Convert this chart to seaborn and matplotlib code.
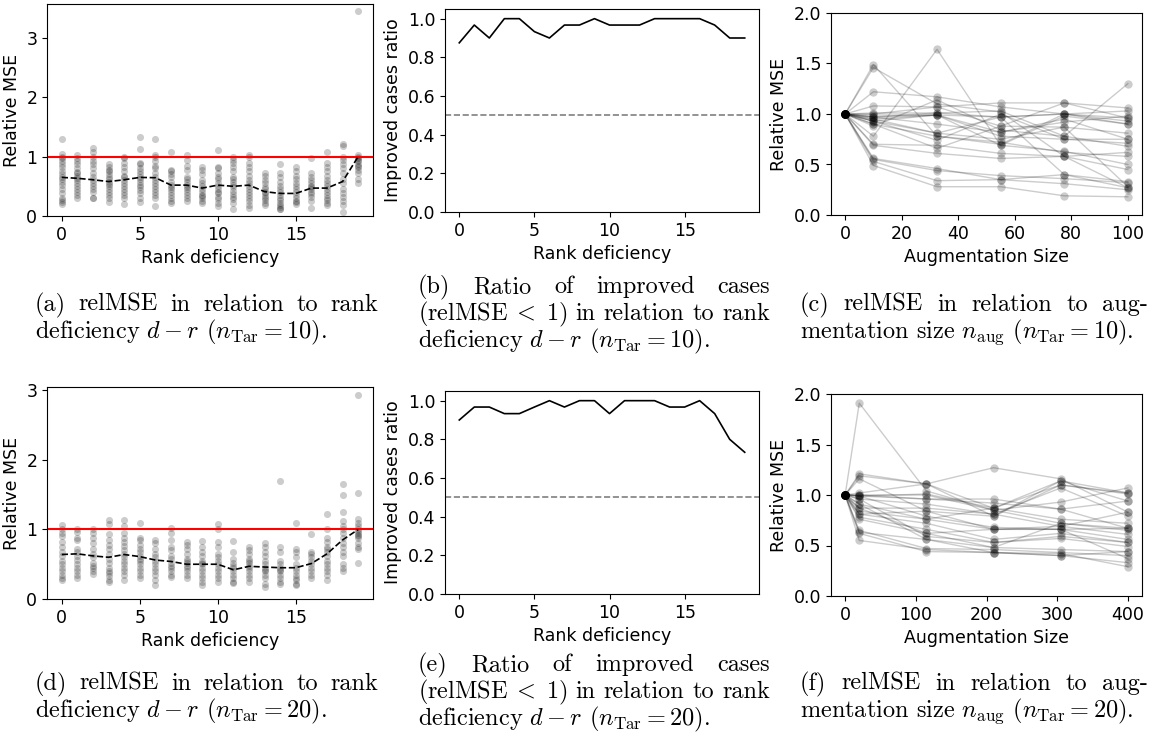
import re
import numpy as np
import pandas as pd
import seaborn as sns
import matplotlib.pyplot as plt

plt.rcParams['mathtext.fontset'] = 'cm'

# rank deficiency 0..19
ranks = np.arange(20)

# relative MSE per rank deficiency, n_Tar = 10
rel_mse_10 = [
    [1.30, 1.05, 1.00, 0.97, 0.93, 0.88, 0.82, 0.75, 0.70, 0.65, 0.62, 0.58, 0.52, 0.45, 0.38, 0.30, 0.27, 0.24, 0.20],
    [1.03, 0.98, 0.92, 0.88, 0.80, 0.74, 0.72, 0.68, 0.64, 0.60, 0.55, 0.50, 0.45, 0.40, 0.35, 0.31],
    [1.14, 1.08, 1.00, 0.93, 0.88, 0.80, 0.72, 0.65, 0.60, 0.55, 0.50, 0.46, 0.40, 0.31, 0.30],
    [0.87, 0.82, 0.78, 0.75, 0.70, 0.66, 0.62, 0.58, 0.54, 0.50, 0.45, 0.40, 0.35, 0.30, 0.23],
    [1.00, 0.97, 0.90, 0.82, 0.75, 0.68, 0.66, 0.60, 0.55, 0.50, 0.46, 0.40, 0.35, 0.30, 0.20],
    [1.33, 1.12, 0.90, 0.88, 0.80, 0.75, 0.70, 0.65, 0.62, 0.58, 0.53, 0.48, 0.43, 0.38, 0.30, 0.24],
    [1.30, 1.02, 1.00, 0.92, 0.85, 0.80, 0.72, 0.65, 0.60, 0.55, 0.50, 0.45, 0.40, 0.35, 0.30, 0.17],
    [1.08, 0.78, 0.75, 0.70, 0.65, 0.58, 0.52, 0.48, 0.45, 0.40, 0.35, 0.30, 0.25, 0.22],
    [1.02, 0.95, 0.85, 0.78, 0.65, 0.62, 0.58, 0.52, 0.48, 0.45, 0.40, 0.35, 0.30, 0.25],
    [0.83, 0.78, 0.70, 0.60, 0.55, 0.50, 0.45, 0.40, 0.35, 0.33, 0.30, 0.26, 0.22],
    [1.11, 0.82, 0.80, 0.72, 0.66, 0.62, 0.55, 0.50, 0.45, 0.40, 0.38, 0.32, 0.28, 0.22, 0.17],
    [1.00, 0.95, 0.90, 0.82, 0.75, 0.65, 0.62, 0.58, 0.52, 0.48, 0.42, 0.37, 0.32, 0.28, 0.22, 0.12],
    [1.03, 1.00, 0.90, 0.82, 0.75, 0.68, 0.60, 0.55, 0.50, 0.45, 0.40, 0.35, 0.30, 0.25, 0.18, 0.13],
    [0.72, 0.68, 0.60, 0.55, 0.48, 0.45, 0.40, 0.38, 0.33, 0.30, 0.27, 0.22, 0.18],
    [0.87, 0.72, 0.65, 0.58, 0.50, 0.45, 0.40, 0.35, 0.30, 0.27, 0.22, 0.18, 0.15, 0.12, 0.11],
    [0.83, 0.75, 0.68, 0.62, 0.55, 0.50, 0.45, 0.40, 0.35, 0.30, 0.26, 0.23, 0.20],
    [0.97, 0.72, 0.65, 0.60, 0.55, 0.50, 0.48, 0.45, 0.40, 0.37, 0.32, 0.26, 0.14],
    [1.07, 0.90, 0.82, 0.75, 0.68, 0.60, 0.55, 0.50, 0.45, 0.40, 0.35, 0.30, 0.27, 0.22, 0.18],
    [1.22, 1.18, 1.00, 0.95, 0.88, 0.80, 0.72, 0.62, 0.55, 0.45, 0.38, 0.32, 0.25, 0.19, 0.07],
    [3.45, 1.03, 1.00, 0.98, 0.95, 0.92, 0.88, 0.85, 0.82, 0.78, 0.73, 0.62, 0.55],
]
trend_10 = [0.65, 0.635, 0.61, 0.58, 0.61, 0.65, 0.645, 0.52, 0.52, 0.47,
            0.52, 0.50, 0.52, 0.41, 0.38, 0.38, 0.47, 0.47, 0.58, 1.00]

# relative MSE per rank deficiency, n_Tar = 20
rel_mse_20 = [
    [1.06, 1.00, 0.95, 0.90, 0.82, 0.75, 0.68, 0.62, 0.55, 0.50, 0.45, 0.40, 0.35, 0.30, 0.28],
    [1.00, 0.97, 0.88, 0.85, 0.72, 0.68, 0.62, 0.56, 0.50, 0.45, 0.40, 0.35, 0.30],
    [1.00, 0.95, 0.88, 0.80, 0.72, 0.65, 0.60, 0.52, 0.48, 0.45, 0.40, 0.36],
    [1.13, 1.08, 0.93, 0.85, 0.78, 0.72, 0.65, 0.58, 0.52, 0.45, 0.40, 0.38, 0.33, 0.28, 0.25],
    [1.13, 1.05, 0.95, 0.88, 0.82, 0.76, 0.70, 0.65, 0.60, 0.55, 0.50, 0.45, 0.40, 0.35, 0.28],
    [1.10, 0.88, 0.85, 0.78, 0.72, 0.68, 0.62, 0.58, 0.55, 0.50, 0.45, 0.40, 0.35, 0.30],
    [0.85, 0.80, 0.72, 0.65, 0.60, 0.55, 0.50, 0.45, 0.40, 0.35, 0.28, 0.20],
    [1.02, 0.95, 0.85, 0.75, 0.70, 0.62, 0.58, 0.52, 0.48, 0.45, 0.40, 0.35, 0.32],
    [0.82, 0.78, 0.72, 0.65, 0.58, 0.55, 0.52, 0.48, 0.45, 0.40, 0.35, 0.30],
    [0.84, 0.75, 0.68, 0.62, 0.55, 0.52, 0.50, 0.45, 0.40, 0.35, 0.30, 0.25, 0.20],
    [1.08, 1.00, 0.82, 0.75, 0.65, 0.60, 0.55, 0.50, 0.45, 0.40, 0.35, 0.30, 0.25],
    [0.84, 0.68, 0.58, 0.52, 0.48, 0.45, 0.40, 0.35, 0.30, 0.25, 0.23],
    [0.75, 0.70, 0.65, 0.58, 0.55, 0.52, 0.48, 0.45, 0.40, 0.35, 0.30, 0.24],
    [0.80, 0.75, 0.68, 0.62, 0.55, 0.50, 0.45, 0.42, 0.40, 0.35, 0.30, 0.22, 0.17],
    [1.70, 0.75, 0.68, 0.55, 0.50, 0.45, 0.42, 0.40, 0.35, 0.30, 0.25, 0.22],
    [1.10, 0.72, 0.68, 0.60, 0.50, 0.45, 0.40, 0.35, 0.30, 0.27, 0.22, 0.20],
    [0.94, 0.68, 0.65, 0.60, 0.55, 0.50, 0.45, 0.40, 0.35, 0.30],
    [1.22, 1.00, 0.88, 0.82, 0.75, 0.72, 0.68, 0.62, 0.55, 0.50, 0.45, 0.40, 0.35, 0.28],
    [1.65, 1.50, 1.25, 1.12, 1.05, 1.00, 0.95, 0.88, 0.80, 0.75, 0.68, 0.62, 0.50, 0.45, 0.40],
    [2.94, 1.52, 1.15, 1.10, 1.05, 1.00, 0.98, 0.95, 0.92, 0.90, 0.88, 0.80, 0.75, 0.72, 0.52],
]
trend_20 = [0.64, 0.65, 0.62, 0.60, 0.64, 0.61, 0.56, 0.54, 0.50, 0.50,
            0.50, 0.42, 0.47, 0.46, 0.45, 0.45, 0.51, 0.65, 0.85, 1.00]

# ratio of improved cases (relMSE < 1)
improved_10 = [0.875, 0.967, 0.900, 1.0, 1.0, 0.933, 0.900, 0.967, 0.967, 1.0,
               0.967, 0.967, 0.967, 1.0, 1.0, 1.0, 1.0, 0.967, 0.900, 0.900]
improved_20 = [0.900, 0.967, 0.967, 0.933, 0.933, 0.967, 1.0, 0.967, 1.0, 1.0,
               0.933, 1.0, 1.0, 1.0, 0.967, 0.967, 1.0, 0.933, 0.800, 0.733]

# augmentation sizes and relMSE per trial (values after the start at 1.0)
aug_sizes_10 = [0, 10, 32.5, 55, 77.5, 100]
aug_trials_10 = [
    [1.49, 0.78, 0.72, 0.62, 0.58], [1.46, 1.10, 1.02, 0.58, 0.27],
    [1.22, 1.17, 1.07, 1.00, 0.96], [1.08, 1.07, 1.11, 1.11, 1.06],
    [1.01, 1.01, 0.97, 1.00, 1.03], [0.99, 0.99, 0.69, 0.98, 0.90],
    [0.97, 0.90, 0.82, 0.92, 0.98], [0.95, 0.81, 0.75, 0.87, 0.81],
    [0.93, 0.74, 1.00, 0.75, 0.75], [0.90, 0.66, 0.88, 1.11, 0.96],
    [0.88, 1.14, 0.84, 0.78, 1.30], [0.78, 1.64, 0.69, 0.63, 0.50],
    [0.70, 0.69, 0.61, 0.58, 0.45], [0.69, 0.61, 0.56, 0.58, 0.62],
    [0.56, 0.46, 0.35, 0.40, 0.27], [0.55, 0.44, 0.39, 0.36, 0.32],
    [0.53, 0.34, 0.35, 0.31, 0.25], [0.49, 0.28, 0.28, 0.19, 0.18],
    [0.97, 1.01, 1.03, 0.78, 0.68], [0.95, 0.99, 0.78, 0.75, 0.71],
    [0.93, 0.81, 0.97, 1.00, 0.90], [1.00, 1.07, 0.88, 0.87, 0.28],
    [0.90, 0.78, 0.70, 1.00, 0.93], [0.97, 0.99, 0.82, 0.95, 0.75],
    [0.93, 0.99, 0.97, 0.40, 0.33],
]
aug_sizes_20 = [0, 20, 115, 210, 305, 400]
aug_trials_20 = [
    [1.91, 1.04, 0.85, 0.72, 0.65], [1.21, 1.11, 0.87, 1.14, 1.02],
    [1.19, 1.11, 0.79, 1.10, 1.01], [1.16, 0.84, 0.66, 0.66, 0.67],
    [1.02, 1.11, 1.27, 1.16, 0.83], [0.99, 0.96, 0.92, 0.86, 0.94],
    [1.00, 1.00, 0.85, 0.93, 1.07], [0.96, 0.91, 0.81, 1.07, 0.79],
    [0.91, 0.76, 0.87, 0.76, 0.72], [0.87, 0.87, 0.81, 0.69, 0.61],
    [0.84, 0.76, 0.66, 0.66, 0.56], [0.81, 0.72, 0.56, 0.62, 0.53],
    [0.78, 0.66, 0.53, 0.57, 0.49], [0.76, 0.62, 0.48, 0.46, 0.44],
    [0.65, 0.47, 0.46, 0.43, 0.40], [0.62, 0.44, 0.43, 0.40, 0.33],
    [0.55, 0.46, 0.43, 0.42, 0.29], [0.99, 0.79, 0.68, 0.66, 0.37],
    [0.96, 0.59, 0.53, 0.59, 0.53], [0.91, 0.56, 0.48, 0.72, 0.67],
    [0.87, 0.62, 0.66, 0.69, 0.83], [1.00, 0.96, 0.96, 0.86, 0.67],
    [0.81, 0.84, 0.79, 1.14, 0.94], [0.63, 0.56, 0.43, 0.40, 0.44],
    [0.99, 1.01, 0.87, 1.10, 1.02],
]

W, H = 1156, 742
TICK, LABEL, CAP, LINE = 12.5, 12.5, 17.5, 27

fig = plt.figure(figsize=(W / 100, H / 100), dpi=100)


def add_ax(l, t, r, b):
    # axes box given in pixels from the top-left corner
    return fig.add_axes([l / W, 1 - b / H, (r - l) / W, (b - t) / H])


def rank_panel(ax, points, trend, ytop):
    df = pd.DataFrame([(r, v) for r, vals in enumerate(points) for v in vals],
                      columns=['rank', 'relmse'])
    sns.scatterplot(data=df, x='rank', y='relmse', color='black', alpha=0.2,
                    s=26, linewidth=0, ax=ax)
    ax.axhline(1, color='red', lw=1.5)
    sns.lineplot(x=ranks, y=trend, color='black', linestyle='--', lw=1.2, ax=ax)
    ax.set_ylim(0, ytop)
    ax.set_xticks([0, 5, 10, 15])
    ax.set_xlabel('Rank deficiency', fontsize=LABEL)
    ax.set_ylabel('Relative MSE', fontsize=LABEL)


def ratio_panel(ax, ratio):
    sns.lineplot(x=ranks, y=ratio, color='black', lw=1.2, ax=ax)
    ax.axhline(0.5, color='gray', linestyle='--', lw=1.2)
    ax.set_ylim(0, 1.05)
    ax.set_xticks([0, 5, 10, 15])
    ax.set_yticks(np.arange(0, 1.01, 0.2))
    ax.set_xlabel('Rank deficiency', fontsize=LABEL)
    ax.set_ylabel('Improved cases ratio', fontsize=LABEL)


def aug_panel(ax, sizes, trials, xticks):
    rows = []
    for k, vals in enumerate(trials):
        for s, v in zip(sizes, [1.0] + vals):
            rows.append((k, s, v))
    df = pd.DataFrame(rows, columns=['trial', 'size', 'relmse'])
    sns.lineplot(data=df, x='size', y='relmse', units='trial', estimator=None,
                 color='black', alpha=0.2, lw=1, marker='o', markersize=6,
                 markeredgewidth=0, ax=ax)
    ax.set_ylim(0, 2)
    ax.set_yticks([0, 0.5, 1.0, 1.5, 2.0])
    ax.set_xticks(xticks)
    ax.set_xlabel('Augmentation Size', fontsize=LABEL)
    ax.set_ylabel('Relative MSE', fontsize=LABEL)


def caption(lines, x0, x1, y0):
    # justified lines, last one left aligned (like LaTeX subcaptions)
    rend = fig.canvas.get_renderer()
    for i, line in enumerate(lines):
        y = 1 - (y0 + i * LINE) / H
        if i == len(lines) - 1:
            fig.text(x0 / W, y, line, fontsize=CAP, family='cmr10', va='baseline')
            continue
        words = re.findall(r'(?:\$[^$]*\$|\S)+', line)
        texts = [fig.text(0, y, w, fontsize=CAP, family='cmr10', va='baseline') for w in words]
        widths = [t.get_window_extent(rend).width for t in texts]
        gap = (x1 - x0 - sum(widths)) / (len(words) - 1)
        x = x0
        for t, w in zip(texts, widths):
            t.set_x(x / W)
            x += w + gap


axes = [add_ax(47, 4, 373, 216), add_ax(445, 9, 759, 212), add_ax(831, 13, 1142, 215),
        add_ax(47, 387, 373, 599), add_ax(445, 391, 759, 594), add_ax(831, 394, 1142, 596)]

rank_panel(axes[0], rel_mse_10, trend_10, 3.57)
ratio_panel(axes[1], improved_10)
aug_panel(axes[2], aug_sizes_10, aug_trials_10, [0, 20, 40, 60, 80, 100])
rank_panel(axes[3], rel_mse_20, trend_20, 3.05)
ratio_panel(axes[4], improved_20)
aug_panel(axes[5], aug_sizes_20, aug_trials_20, [0, 100, 200, 300, 400])

for ax in axes:
    ax.tick_params(labelsize=TICK)

less = r'(relMSE$\;<\;$1)'
caption(['(a) relMSE in relation to rank',
         r'deficiency $d-r$ $(n_{\mathrm{Tar}}=10)$.'], 35, 378, 311)
caption(['(b) Ratio of improved cases',
         less + ' in relation to rank',
         r'deficiency $d-r$ $(n_{\mathrm{Tar}}=10)$.'], 418, 770, 293)
caption(['(c) relMSE in relation to aug-',
         r'mentation size $n_{\mathrm{aug}}$ $(n_{\mathrm{Tar}}=10)$.'], 800, 1148, 311)
caption(['(d) relMSE in relation to rank',
         r'deficiency $d-r$ $(n_{\mathrm{Tar}}=20)$.'], 35, 378, 690)
caption(['(e) Ratio of improved cases',
         less + ' in relation to rank',
         r'deficiency $d-r$ $(n_{\mathrm{Tar}}=20)$.'], 418, 770, 671)
caption(['(f) relMSE in relation to aug-',
         r'mentation size $n_{\mathrm{aug}}$ $(n_{\mathrm{Tar}}=20)$.'], 800, 1148, 690)

plt.savefig('out.png', dpi=100)
